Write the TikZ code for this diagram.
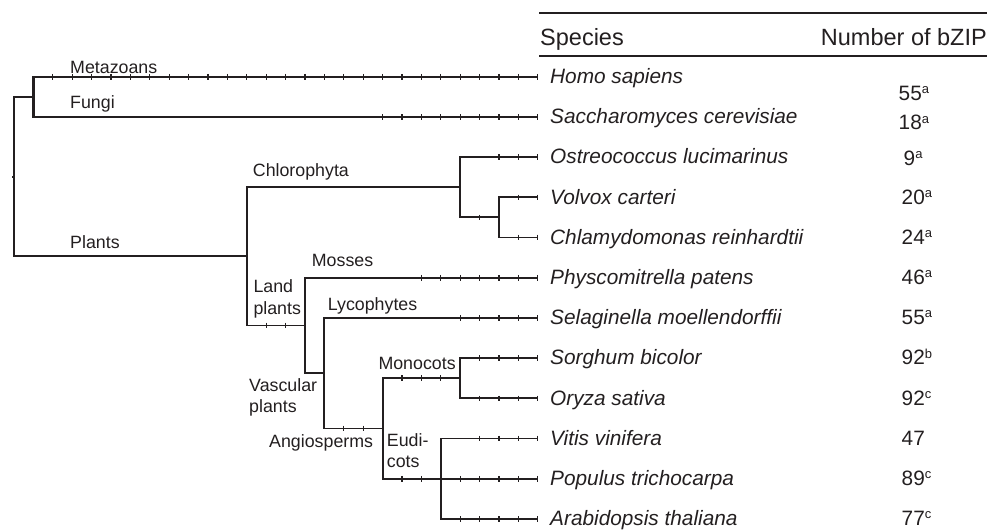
\documentclass[tikz,border=0pt]{standalone}
\usepackage{fontspec}
\setmainfont{Liberation Sans}
\usetikzlibrary{positioning}
\definecolor{treeink}{HTML}{231F20}
\newcommand{\fnote}[1]{\raisebox{6.8pt}{\fontsize{13}{14}\selectfont #1}}

\begin{document}
\begin{tikzpicture}[
  x=1pt, y=-1pt,
  branch/.style={draw=treeink, line width=1.9pt},
  heavy/.style={branch, line width=2.3pt},
  tick/.style={draw=treeink, line width=1.3pt},
  clade/.style={font=\fontsize{17.8}{21.5}\selectfont, text=treeink, inner sep=0pt, align=left},
  species/.style={font=\fontsize{20.8}{24}\selectfont\itshape, text=treeink, inner sep=0pt, text height=15pt, text depth=1.4pt},
  count/.style={species, font=\fontsize{20.8}{24}\selectfont, anchor=west},
  head/.style={font=\fontsize{23.5}{27}\selectfont, text=treeink, inner sep=0pt},
  rule/.style={draw=treeink, line width=1.8pt}
]
\useasboundingbox (0,0) rectangle (1001,531);

% inner nodes of the tree
\coordinate (root) at (14,176.6);
\coordinate (opist) at (33.4,96.8);
\coordinate (plants) at (246.8,256.35);
\coordinate (chloro) at (460.2,187.25);
\coordinate (volchl) at (499,217.4);
\coordinate (land) at (305,325.45);
\coordinate (vasc) at (324.4,373.2);
\coordinate (angio) at (382.6,428.45);
\coordinate (mono) at (460.2,378.2);
\coordinate (eudi) at (440.8,478.7);

% leaves
\coordinate (homo) at (537.8,76.7);
\coordinate (sacc) at (537.8,116.9);
\coordinate (ostreo) at (537.8,157.1);
\coordinate (volvox) at (537.8,197.3);
\coordinate (chlamy) at (537.8,237.5);
\coordinate (physco) at (537.8,277.7);
\coordinate (selag) at (537.8,317.9);
\coordinate (sorghum) at (537.8,358.1);
\coordinate (oryza) at (537.8,398.3);
\coordinate (vitis) at (537.8,438.5);
\coordinate (populus) at (537.8,478.7);
\coordinate (arabid) at (537.8,518.9);

% branches
\draw[branch] (root) -- ++(-2.5,0);
\draw[heavy] (root) |- (opist);
\draw[heavy] (opist) |- (homo);
\draw[heavy] (opist) |- (sacc);
\draw[branch] (root) |- (plants);
\draw[branch] (plants) |- (chloro);
\draw[branch] (plants) |- (land);
\draw[branch] (chloro) |- (ostreo);
\draw[branch] (chloro) |- (volchl);
\draw[branch] (volchl) |- (volvox);
\draw[branch] (volchl) |- (chlamy);
\draw[branch] (land) |- (physco);
\draw[branch] (land) |- (vasc);
\draw[branch] (vasc) |- (selag);
\draw[branch] (vasc) |- (angio);
\draw[branch] (angio) |- (mono);
\draw[branch] (angio) |- (eudi);
\draw[branch] (mono) |- (sorghum);
\draw[branch] (mono) |- (oryza);
\draw[branch] (eudi) |- (vitis);
\draw[branch] (eudi) -- (populus);
\draw[branch] (eudi) |- (arabid);

% ticks, one step = 19.4pt
\foreach \ty/\ta/\tb in {76.7/2/27, 116.9/19/27, 157.1/25/27, 217.4/24/24, 197.3/26/27,
    237.5/26/27, 325.45/13/14, 277.7/21/27, 317.9/23/27, 428.45/17/18, 378.2/20/22,
    358.1/24/27, 398.3/24/27, 478.7/20/21, 438.5/24/27, 478.7/23/27, 518.9/23/27}
  \foreach \n in {\ta,...,\tb}
    \draw[tick] ({14+19.4*\n},\ty) ++(0,-2.8) -- ++(0,5.6);

% clade labels
\node[clade, anchor=base west] (metazoa) at (70,73.5) {Metazoans};
\node[clade, anchor=base west] (fungi) at (70,108) {Fungi};
\node[clade, anchor=base west] (chlorophyta) at (252.7,176) {Chlorophyta};
\node[clade, anchor=base west] (plantae) at (70,248) {Plants};
\node[clade, anchor=base west] (mosses) at (311.7,266) {Mosses};
\node[clade, anchor=north west] (landplants) at (253.3,279.7) {Land\\plants};
\node[clade, anchor=base west] (lyco) at (327.7,310.7) {Lycophytes};
\node[clade, anchor=north west] (vascular) at (249,378) {Vascular\\plants};
\node[clade, anchor=base west] (angiosp) at (269,447) {Angiosperms};
\node[clade, anchor=base west] (monocots) at (378.3,369) {Monocots};
\node[clade, anchor=north west] (eudicots) at (386.7,433) {Eudi-\\cots};

% table
\draw[rule] (539,12.7) -- (987,12.7);
\draw[rule] (539,56) -- (987,56);
\node[head, anchor=base west] (hspecies) at (540,45.5) {Species};
\node[head, anchor=base east] (hcount) at (987,45.5) {Number of bZIP};

\node[species, right=12.2pt of homo] (homo-sp) {Homo sapiens};
\node[species, right=12.2pt of sacc] (sacc-sp) {Saccharomyces cerevisiae};
\node[species, right=12.2pt of ostreo] (ostreo-sp) {Ostreococcus lucimarinus};
\node[species, right=12.2pt of volvox] (volvox-sp) {Volvox carteri};
\node[species, right=12.2pt of chlamy] (chlamy-sp) {Chlamydomonas reinhardtii};
\node[species, right=12.2pt of physco] (physco-sp) {Physcomitrella patens};
\node[species, right=12.2pt of selag] (selag-sp) {Selaginella moellendorffii};
\node[species, right=12.2pt of sorghum] (sorghum-sp) {Sorghum bicolor};
\node[species, right=12.2pt of oryza] (oryza-sp) {Oryza sativa};
\node[species, right=12.2pt of vitis] (vitis-sp) {Vitis vinifera};
\node[species, right=12.2pt of populus] (populus-sp) {Populus trichocarpa};
\node[species, right=12.2pt of arabid] (arabid-sp) {Arabidopsis thaliana};

\node[count] (homo-n) at (898.5,93.5) {55\fnote{a}};
\node[count] (sacc-n) at (898.5,123) {18\fnote{a}};
\node[count] (ostreo-n) at (903.5,158.6) {9\fnote{a}};
\node[count] (volvox-n) at (901.5,197.3) {20\fnote{a}};
\node[count] (chlamy-n) at (901.5,237.5) {24\fnote{a}};
\node[count] (physco-n) at (901.5,277.7) {46\fnote{a}};
\node[count] (selag-n) at (901.5,317.9) {55\fnote{a}};
\node[count] (sorghum-n) at (901.5,358.1) {92\fnote{b}};
\node[count] (oryza-n) at (901.5,398.3) {92\fnote{c}};
\node[count] (vitis-n) at (901.5,438.5) {47};
\node[count] (populus-n) at (901.5,478.7) {89\fnote{c}};
\node[count] (arabid-n) at (901.5,518.9) {77\fnote{c}};
\end{tikzpicture}
\end{document}
